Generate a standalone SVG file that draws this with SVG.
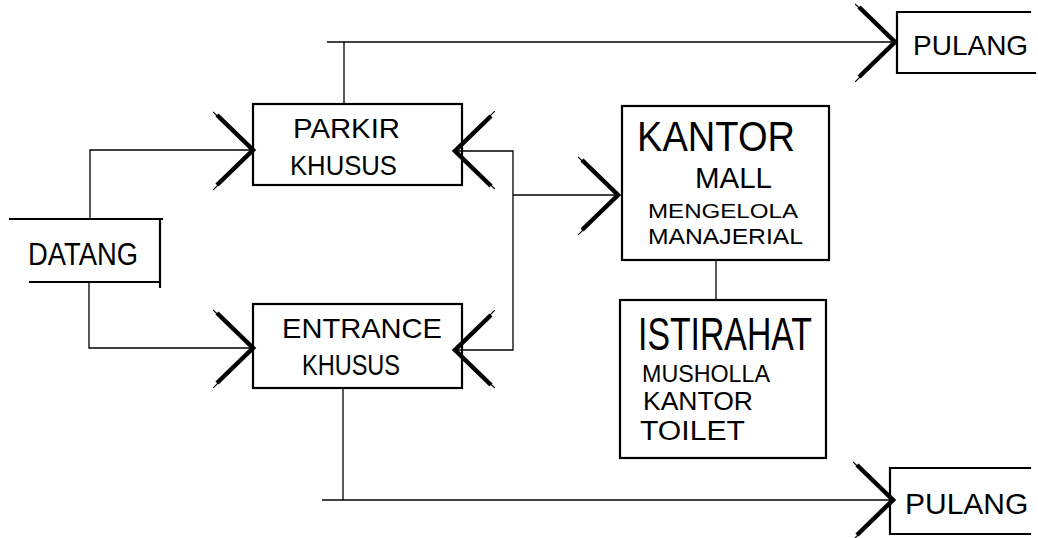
<svg xmlns="http://www.w3.org/2000/svg" width="1038" height="538" viewBox="0 0 1038 538">
<style>
.box{fill:none;stroke:#000;stroke-width:2.2;stroke-linecap:square}
.con{fill:none;stroke:#000;stroke-width:1.3}
.t{font-family:"Liberation Sans",Arial,sans-serif;fill:#000;stroke:none}
</style>
<defs>
<marker id="chev" viewBox="0 0 46 80" refX="40" refY="40" markerWidth="46" markerHeight="80" markerUnits="userSpaceOnUse" orient="auto">
<path d="M4,5 L40,40 L4,75" fill="none" stroke="#000" stroke-width="4.5" stroke-linejoin="miter"/>
<path d="M0,2 L37,37 M0,80 L36,44" fill="none" stroke="#000" stroke-width="1.2"/>
</marker>
</defs>
<rect width="1038" height="538" fill="#fff"/>
<g id="connectors">
<path class="con" d="M90,219 V150 H253" marker-end="url(#chev)"/>
<path class="con" d="M89,282 V348 H253" marker-end="url(#chev)"/>
<path class="con" d="M327,42 H895" marker-end="url(#chev)"/>
<path class="con" d="M344,42 V104"/>
<path class="con" d="M322,500 H893" marker-end="url(#chev)"/>
<path class="con" d="M343,388 V500"/>
<path class="con" d="M513,195 V151 H455" marker-end="url(#chev)"/>
<path class="con" d="M513,195 V350 H455" marker-end="url(#chev)"/>
<path class="con" d="M513,195 H618" marker-end="url(#chev)"/>
<path class="con" d="M716,260 V300"/>
</g>
<g id="datang">
<path class="box" d="M10,219 H162 M160,219 V287 M30,282 H158"/>
<text class="t" x="28" y="265" font-size="31" textLength="110" lengthAdjust="spacingAndGlyphs">DATANG</text>
</g>
<g id="parkir">
<rect class="box" x="253" y="104" width="209" height="81"/>
<text class="t" x="293" y="138" font-size="27" textLength="107" lengthAdjust="spacingAndGlyphs">PARKIR</text>
<text class="t" x="290" y="175" font-size="27" textLength="107" lengthAdjust="spacingAndGlyphs">KHUSUS</text>
</g>
<g id="entrance">
<rect class="box" x="253" y="304" width="209" height="84"/>
<text class="t" x="282" y="338" font-size="28" textLength="160" lengthAdjust="spacingAndGlyphs">ENTRANCE</text>
<text class="t" x="302" y="375" font-size="30" textLength="98" lengthAdjust="spacingAndGlyphs">KHUSUS</text>
</g>
<g id="kantor">
<rect class="box" x="622" y="106" width="207" height="154"/>
<text class="t" x="637" y="151" font-size="43" textLength="158" lengthAdjust="spacingAndGlyphs">KANTOR</text>
<text class="t" x="695" y="188" font-size="30" textLength="77" lengthAdjust="spacingAndGlyphs">MALL</text>
<text class="t" x="648" y="218" font-size="21" textLength="150" lengthAdjust="spacingAndGlyphs">MENGELOLA</text>
<text class="t" x="648" y="244" font-size="22" textLength="155" lengthAdjust="spacingAndGlyphs">MANAJERIAL</text>
</g>
<g id="istirahat">
<rect class="box" x="620" y="300" width="206" height="158"/>
<text class="t" x="638" y="350" font-size="47" textLength="174" lengthAdjust="spacingAndGlyphs">ISTIRAHAT</text>
<text class="t" x="642" y="382" font-size="24" textLength="128" lengthAdjust="spacingAndGlyphs">MUSHOLLA</text>
<text class="t" x="643" y="410" font-size="25" textLength="110" lengthAdjust="spacingAndGlyphs">KANTOR</text>
<text class="t" x="640" y="440" font-size="27" textLength="105" lengthAdjust="spacingAndGlyphs">TOILET</text>
</g>
<g id="pulang-top">
<path class="box" d="M897,12 H1030 M897,12 V73 M897,73 H1035"/>
<text class="t" x="913" y="55" font-size="28">PULANG</text>
</g>
<g id="pulang-bottom">
<path class="box" d="M890,468 H1030 M890,468 V534 M890,534 H1030"/>
<text class="t" x="905" y="514" font-size="30">PULANG</text>
</g>
</svg>
